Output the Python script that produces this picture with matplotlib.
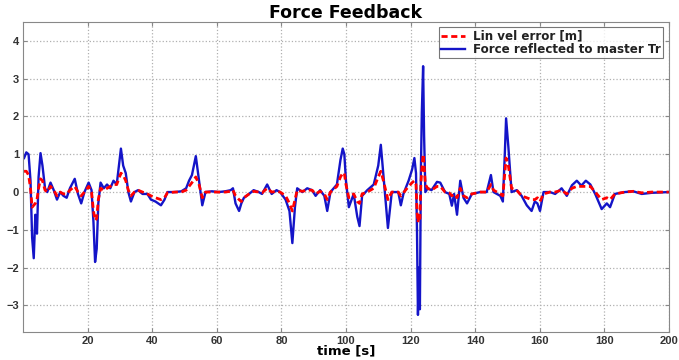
# Force feedback plot: lin vel error vs force reflected to master

import numpy as np
import matplotlib.pyplot as plt

plt.rcParams['font.family'] = ['Liberation Sans', 'DejaVu Sans']

# =============================================================================
#                                     Data
# =============================================================================
t = [0.3, 1.0, 1.7, 2.3, 2.8, 3.3, 3.8, 4.3, 4.8, 5.4, 6.0, 6.8, 7.5, 8.5, 9.5,
     10.5, 11.5, 12.5, 13.5, 14.5, 16.0, 17.0, 18.0, 19.0, 20.3, 21.2, 21.8,
     22.3, 22.8, 23.3, 24.0, 25.0, 26.0, 27.0, 28.0, 29.0, 30.3, 31.0, 31.8,
     32.6, 33.4, 34.5, 35.6, 37.0, 38.5, 39.6, 41.0, 42.7, 43.8, 44.7, 47.0,
     49.0, 50.5, 51.4, 52.3, 53.5, 54.5, 55.5, 56.5, 58.5, 60.6, 62.6, 64.3,
     65.0, 65.8, 66.9, 67.6, 68.4, 70.0, 71.4, 73.0, 74.0, 75.6, 77.0, 78.5,
     79.6, 81.3, 82.5, 83.4, 84.2, 84.9, 86.5, 88.0, 89.5, 90.6, 92.0, 93.3,
     94.2, 95.2, 97.2, 98.3, 99.0, 99.5, 100.0, 100.9, 102.4, 103.5, 104.2,
     105.0, 106.6, 108.6, 110.0, 110.8, 111.6, 113.0, 114.2, 116.2, 117.0,
     117.8, 119.4, 120.5, 121.2, 121.7, 122.0, 122.3, 122.6, 122.9, 123.2,
     123.5, 123.9, 124.2, 124.6, 125.3, 126.5, 128.2, 129.2, 130.7, 132.0,
     132.8, 133.5, 134.4, 135.4, 136.4, 137.5, 139.0, 141.6, 143.6, 144.9,
     145.7, 147.8, 148.6, 149.2, 149.6, 150.3, 151.3, 152.9, 154.4, 156.0,
     157.5, 158.5, 159.3, 160.1, 161.2, 163.2, 164.8, 166.8, 168.4, 170.0,
     171.5, 172.9, 174.3, 175.7, 177.2, 179.2, 180.8, 181.8, 183.3, 186.4,
     189.0, 191.6, 194.7, 200.0]

force = [0.9, 1.05, 1.0, 0.3, -1.2, -1.75, -0.6, -1.1, 0.4, 1.03, 0.7, 0.1, 0.0,
         0.25, 0.05, -0.2, 0.0, -0.1, -0.15, 0.1, 0.35, -0.05, -0.3, 0.0, 0.25,
         0.05, -0.8, -1.85, -1.5, -0.3, 0.25, 0.1, 0.2, 0.1, 0.3, 0.2, 1.15, 0.7,
         0.5, 0.0, -0.25, 0.0, 0.05, -0.05, -0.05, -0.2, -0.25, -0.35, -0.2, 0.0,
         0.0, 0.02, 0.1, 0.3, 0.45, 0.95, 0.3, -0.35, 0.0, 0.02, 0.0, 0.02, 0.05,
         0.1, -0.3, -0.5, -0.3, -0.15, -0.05, 0.05, 0.0, -0.05, 0.2, -0.05, 0.05,
         0.0, -0.2, -0.5, -1.35, -0.4, 0.1, 0.0, 0.1, 0.05, -0.1, 0.05, -0.1,
         -0.5, 0.0, 0.2, 0.85, 1.15, 1.0, 0.3, -0.4, -0.05, -0.65, -0.9, -0.1,
         0.05, 0.2, 0.7, 1.25, 0.45, -0.95, 0.0, 0.0, -0.35, -0.05, 0.3, 0.6,
         0.9, 0.5, -1.0, -3.25, -2.0, -3.1, 0.5, 2.1, 3.33, 1.5, 0.0, 0.1, 0.05,
         0.27, 0.25, 0.0, -0.05, -0.36, -0.05, -0.6, 0.3, -0.15, -0.3, -0.05,
         0.0, 0.0, 0.45, 0.0, -0.1, -0.25, 1.0, 1.95, 1.2, 0.0, 0.05, -0.1,
         -0.35, -0.5, -0.25, -0.3, -0.5, 0.0, 0.0, -0.05, 0.1, -0.1, 0.18, 0.3,
         0.17, 0.3, 0.2, -0.05, -0.45, -0.3, -0.4, -0.05, 0.0, 0.02, -0.05,
         -0.02, 0.0]

vel_err = [0.55, 0.55, 0.45, 0.1, -0.4, -0.35, -0.3, -0.2, 0.1, 0.35, 0.3, 0.05,
           0.0, 0.15, 0.05, -0.1, 0.0, -0.05, -0.05, 0.05, 0.15, 0.0, -0.1, 0.0,
           0.15, 0.0, -0.5, -0.75, -0.7, -0.2, 0.1, 0.05, 0.1, 0.15, 0.2, 0.2,
           0.5, 0.45, 0.3, 0.05, -0.1, 0.0, 0.05, 0.0, -0.05, -0.1, -0.15, -0.2,
           -0.15, -0.02, 0.0, 0.0, 0.05, 0.15, 0.25, 0.4, 0.2, -0.15, 0.0, 0.0,
           0.0, 0.0, 0.02, 0.05, -0.1, -0.2, -0.25, -0.15, -0.05, 0.02, 0.0,
           -0.02, 0.1, 0.0, 0.02, 0.0, -0.1, -0.3, -0.5, -0.2, 0.05, 0.02, 0.05,
           0.05, -0.05, 0.02, -0.05, -0.2, 0.0, 0.15, 0.4, 0.5, 0.5, 0.2, -0.15,
           -0.05, -0.25, -0.3, -0.05, 0.0, 0.1, 0.4, 0.55, 0.3, -0.2, 0.0, 0.0,
           -0.1, -0.02, 0.15, 0.25, 0.3, 0.2, -0.5, -0.8, -0.6, -0.7, 0.2, 0.6,
           1.0, 0.7, 0.2, 0.1, 0.05, 0.15, 0.15, 0.0, -0.02, -0.1, -0.05, -0.15,
           0.1, -0.1, -0.15, -0.05, 0.0, 0.0, 0.2, 0.05, -0.05, -0.1, 0.5, 0.9,
           0.7, 0.1, 0.05, -0.1, -0.15, -0.2, -0.2, -0.15, -0.25, -0.05, 0.0,
           0.0, 0.05, -0.05, 0.1, 0.15, 0.15, 0.15, 0.15, 0.0, -0.2, -0.15, -0.2,
           -0.05, 0.0, 0.02, -0.02, 0.0, 0.0]

x_ticks = np.arange(20, 201, 20)
y_ticks = np.arange(-3, 5, 1)

# =============================================================================
#                                     Plot
# =============================================================================
fig = plt.figure(figsize=(6.79, 3.6), dpi=100)
ax = fig.add_axes([0.034, 0.078, 0.951, 0.861])

ax.plot(t, vel_err, color='red', linestyle='--', dashes=(2.2, 1.3),
        linewidth=2.0, label='Lin vel error [m]', zorder=3)
ax.plot(t, force, color='#1414c8', linewidth=1.7,
        label='Force reflected to master Tr', zorder=2)

ax.set_xlim(0, 200)
ax.set_ylim(-3.7, 4.5)
ax.set_xticks(x_ticks)
ax.set_yticks(y_ticks)
ax.grid(True, linestyle=':', color='#b0b0b0', linewidth=0.9)
ax.tick_params(direction='in', top=True, right=True, labelsize=8,
               labelcolor='#333333', length=3, color='#888888', pad=3)
for lab in ax.get_xticklabels() + ax.get_yticklabels():
    lab.set_fontweight('bold')
for s in ax.spines.values():
    s.set_color('#888888')

ax.set_title('Force Feedback', fontsize=12.5, fontweight='bold', pad=3,
             family='DejaVu Sans')
ax.set_xlabel('time [s]', fontsize=9.5, fontweight='bold', labelpad=-1,
              family='DejaVu Sans')

leg = ax.legend(loc='upper right', frameon=True, fancybox=False,
                prop={'family': 'DejaVu Sans', 'weight': 'bold', 'size': 8.6},
                borderaxespad=0.45, handlelength=2.0, borderpad=0.2,
                labelspacing=0.0, handletextpad=0.7)
leg.get_frame().set_edgecolor('#555555')
leg.get_frame().set_linewidth(0.8)
for txt in leg.get_texts():
    txt.set_color('#222222')

plt.savefig('out.png', dpi=100)
